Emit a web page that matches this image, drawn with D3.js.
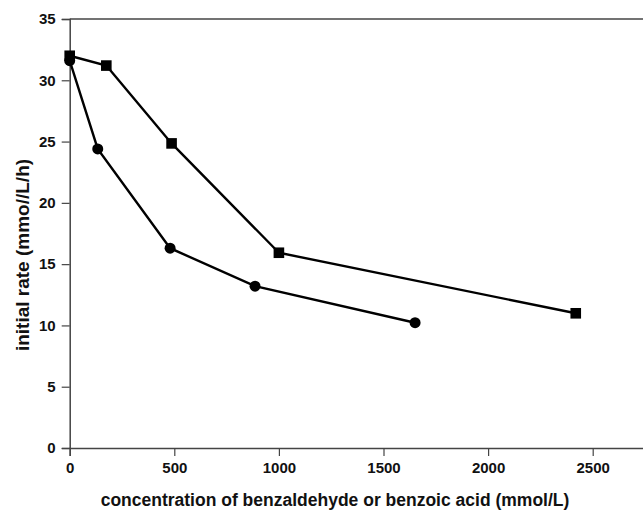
<!DOCTYPE html>
<html><head><meta charset="utf-8">
<script src="https://cdn.jsdelivr.net/npm/d3@7"></script>
<style>body{margin:0;background:#fff}svg{display:block}text{font-family:"Liberation Sans",Arial,sans-serif;font-weight:bold}</style>
</head><body><svg id="c" width="643" height="511"></svg>
<script>
const squareX = [0, 175, 487, 1000, 2419];
const squareY = [32.0, 31.2, 24.85, 15.93, 10.99];
const circleX = [0, 134, 480, 886, 1651];
const circleY = [31.6, 24.4, 16.3, 13.2, 10.22];
const xTicks = [0, 500, 1000, 1500, 2000, 2500];
const yTicks = [0, 5, 10, 15, 20, 25, 30, 35];
const xLabel = "concentration of benzaldehyde or benzoic acid (mmol/L)";
const yLabel = "initial rate (mmo//L/h)";

const svg = d3.select("#c");
const L = 69.7, T = 19, B = 448;
const x = d3.scaleLinear().domain([0, 2750]).range([L, L + 2750 * 0.2092]);
const y = d3.scaleLinear().domain([0, 35]).range([B, T]);
const axCol = "#444";

// top frame
svg.append("line").attr("x1", L).attr("x2", 643).attr("y1", T).attr("y2", T)
  .attr("stroke", axCol).attr("stroke-width", 1.5);

const gx = svg.append("g").attr("transform", `translate(0,${B})`);
gx.call(d3.axisBottom(x).tickValues(d3.range(0, 2751, 250)).tickSize(5).tickFormat(""));
gx.call(d3.axisBottom(x).tickValues(xTicks).tickSize(8).tickPadding(6.5).tickFormat(d3.format("d")));
gx.selectAll("path.domain").attr("stroke", axCol).attr("stroke-width", 1.5);
gx.selectAll("line").attr("stroke", axCol).attr("stroke-width", 1.2);
gx.selectAll("text").attr("font-size", 15).attr("fill", "#111");

const gy = svg.append("g").attr("transform", `translate(${L},0)`);
gy.call(d3.axisLeft(y).tickValues(d3.range(0, 35.1, 2.5)).tickSize(5).tickFormat(""));
gy.call(d3.axisLeft(y).tickValues(yTicks).tickSize(8).tickPadding(6).tickFormat(d3.format("d")));
gy.selectAll("path.domain").attr("stroke", axCol).attr("stroke-width", 1.5);
gy.selectAll("line").attr("stroke", axCol).attr("stroke-width", 1.2);
gy.selectAll("text").attr("font-size", 15).attr("fill", "#111");

svg.append("text").attr("x", 335).attr("y", 506).attr("text-anchor", "middle")
  .attr("font-size", 17.5).attr("fill", "#111").text(xLabel);
svg.append("text").attr("transform", "translate(29,255) rotate(-90)").attr("text-anchor", "middle")
  .attr("font-size", 19).attr("fill", "#111").text(yLabel);

const sq = squareX.map((d, i) => [d, squareY[i]]);
const ci = circleX.map((d, i) => [d, circleY[i]]);
const line = d3.line().x(d => x(d[0])).y(d => y(d[1]));
svg.append("path").attr("d", line(sq)).attr("fill", "none").attr("stroke", "#000").attr("stroke-width", 2.4);
svg.append("path").attr("d", line(ci)).attr("fill", "none").attr("stroke", "#000").attr("stroke-width", 2.4);
svg.selectAll("rect.m").data(sq).enter().append("rect").attr("class", "m")
  .attr("x", d => x(d[0]) - 5.3).attr("y", d => y(d[1]) - 5.3).attr("width", 10.6).attr("height", 10.6).attr("fill", "#000");
svg.selectAll("circle.m").data(ci).enter().append("circle").attr("class", "m")
  .attr("cx", d => x(d[0])).attr("cy", d => y(d[1])).attr("r", 5.5).attr("fill", "#000");
</script></body></html>
